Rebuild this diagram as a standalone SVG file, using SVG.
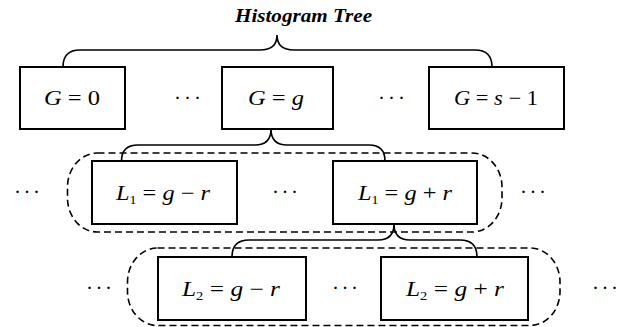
<svg xmlns="http://www.w3.org/2000/svg" width="626" height="327" viewBox="0 0 626 327">
<style>
.box{fill:#fff;stroke:#000;stroke-width:2}
.brace{fill:none;stroke:#000;stroke-width:1.6}
.grp{fill:none;stroke:#000;stroke-width:1.6;stroke-dasharray:7 4}
.math{font-family:"Liberation Serif","Times New Roman",serif;font-size:21px;fill:#000}
.it{font-style:italic}
.sub{font-size:12px}
.dots{font-family:"Liberation Serif","Times New Roman",serif;font-size:21px;fill:#000}
.title{font-family:"Liberation Serif","Times New Roman",serif;font-size:18px;font-weight:bold;font-style:italic;fill:#000}
</style>
<rect width="626" height="327" fill="#fff"/>
<g id="groups">
<rect id="level1-group" class="grp" x="67.5" y="153" width="434.5" height="79" rx="30" ry="34"/>
<rect id="level2-group" class="grp" x="127.5" y="248" width="432.5" height="77.5" rx="30" ry="34"/>
</g>
<g id="connectors">
<path id="brace-root" class="brace" d="M63,67 Q63,50 80,50 L260,50 Q277,50 277,35 Q277,50 294,50 L475,50 Q492,50 492,67"/>
<path id="brace-g" class="brace" d="M121.5,161 Q121.5,145 138,145 L255,145 Q271,145 271,129 Q271,145 287,145 L369,145 Q385,145 385,161"/>
<path id="brace-l1" class="brace" d="M232,257 Q232,240 249,240 L378,240 Q394,240 394,224 Q394,240 410,240 L460,240 Q477,240 477,257"/>
</g>
<text id="title" class="title" x="235" y="22" textLength="137" lengthAdjust="spacingAndGlyphs">Histogram Tree</text>
<g id="node-G0">
<rect class="box" x="20" y="67" width="105" height="62"/>
<text class="math" x="44" y="105" textLength="56" lengthAdjust="spacingAndGlyphs"><tspan class="it">G</tspan> = 0</text>
</g>
<g id="node-Gg">
<rect class="box" x="222" y="67" width="111" height="62"/>
<text class="math" x="248" y="105" textLength="56" lengthAdjust="spacingAndGlyphs"><tspan class="it">G</tspan> = <tspan class="it">g</tspan></text>
</g>
<g id="node-Gs1">
<rect class="box" x="429" y="67" width="135" height="62"/>
<text class="math" x="454" y="105" textLength="84" lengthAdjust="spacingAndGlyphs"><tspan class="it">G</tspan> = <tspan class="it">s</tspan> − 1</text>
</g>
<g id="node-L1-minus">
<rect class="box" x="92" y="161" width="145" height="63"/>
<text class="math" x="116" y="200" textLength="94" lengthAdjust="spacingAndGlyphs"><tspan class="it">L</tspan><tspan class="sub" dy="4">1</tspan><tspan dy="-4"> = </tspan><tspan class="it">g</tspan> − <tspan class="it">r</tspan></text>
</g>
<g id="node-L1-plus">
<rect class="box" x="333" y="161" width="144" height="63"/>
<text class="math" x="358" y="200" textLength="94" lengthAdjust="spacingAndGlyphs"><tspan class="it">L</tspan><tspan class="sub" dy="4">1</tspan><tspan dy="-4"> = </tspan><tspan class="it">g</tspan> + <tspan class="it">r</tspan></text>
</g>
<g id="node-L2-minus">
<rect class="box" x="158" y="257" width="148" height="63"/>
<text class="math" x="182" y="296" textLength="98" lengthAdjust="spacingAndGlyphs"><tspan class="it">L</tspan><tspan class="sub" dy="4">2</tspan><tspan dy="-4"> = </tspan><tspan class="it">g</tspan> − <tspan class="it">r</tspan></text>
</g>
<g id="node-L2-plus">
<rect class="box" x="381" y="257" width="147" height="63"/>
<text class="math" x="406" y="296" textLength="98" lengthAdjust="spacingAndGlyphs"><tspan class="it">L</tspan><tspan class="sub" dy="4">2</tspan><tspan dy="-4"> = </tspan><tspan class="it">g</tspan> + <tspan class="it">r</tspan></text>
</g>
<g id="ellipses">
<text class="dots" x="174" y="105" textLength="27" lengthAdjust="spacing">···</text>
<text class="dots" x="378" y="105" textLength="27" lengthAdjust="spacing">···</text>
<text class="dots" x="14" y="199" textLength="26" lengthAdjust="spacing">···</text>
<text class="dots" x="272" y="199" textLength="26" lengthAdjust="spacing">···</text>
<text class="dots" x="520" y="199" textLength="26" lengthAdjust="spacing">···</text>
<text class="dots" x="86" y="295" textLength="26" lengthAdjust="spacing">···</text>
<text class="dots" x="332" y="295" textLength="26" lengthAdjust="spacing">···</text>
<text class="dots" x="592" y="295" textLength="26" lengthAdjust="spacing">···</text>
</g>
</svg>
